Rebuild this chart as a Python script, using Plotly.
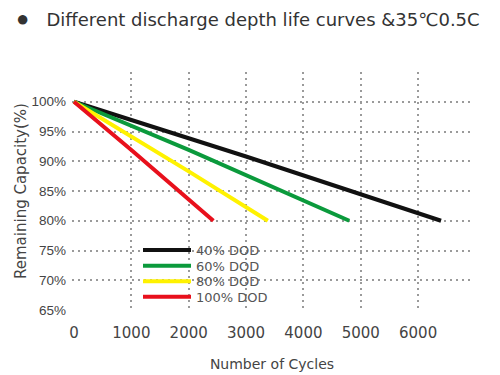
import plotly.graph_objects as go

# Data (cycles vs remaining capacity %)
cycles_40 = [0, 3000, 6400]
cap_40 = [100, 90.8, 80]

cycles_60 = [0, 2000, 4800]
cap_60 = [100, 91.9, 80]

cycles_80 = [0, 2000, 3380]
cap_80 = [100, 88.3, 80]

cycles_100 = [0, 1000, 2430]
cap_100 = [100, 91.9, 80]

names = ["40% DOD", "60% DOD", "80% DOD", "100% DOD"]
colors = ["#111111", "#0b9a3c", "#fff200", "#e8101c"]
xs_all = [cycles_40, cycles_60, cycles_80, cycles_100]
ys_all = [cap_40, cap_60, cap_80, cap_100]

x_ticks = [0, 1000, 2000, 3000, 4000, 5000, 6000]
x_grid = [1000, 2000, 3000, 4000, 5000, 6000]
y_ticks = [65, 70, 75, 80, 85, 90, 95, 100]
y_grid = [70, 75, 80, 85, 90, 95, 100]
y_ticktext = [f"{v}%" for v in y_ticks]

FONT = "Liberation Sans, Arial, sans-serif"
WIDE = "DejaVu Sans, Liberation Sans, sans-serif"
GRID = dict(showgrid=True, gridcolor="#9a9a9a", gridwidth=1.5, griddash="2px,4px")

# legend rows (paper y) for the four individual legends
legend_y = [0.252, 0.186, 0.121, 0.055]
legend_ids = ["legend", "legend2", "legend3", "legend4"]

fig = go.Figure()
for name, xs, ys, col, lid in zip(names, xs_all, ys_all, colors, legend_ids):
    fig.add_trace(go.Scatter(x=xs, y=ys, mode="lines", name=name, legend=lid,
                             line=dict(color=col, width=4), hoverinfo="skip"))

legend_layout = {}
for lid, ly in zip(legend_ids, legend_y):
    legend_layout[lid] = dict(x=0.165, y=ly, xanchor="left", yanchor="middle",
                              bgcolor="rgba(0,0,0,0)", borderwidth=0,
                              font=dict(family=WIDE, size=13, color="#555555"),
                              itemwidth=48)

fig.update_layout(
    width=500, height=375,
    margin=dict(l=72, r=28, t=72, b=65, autoexpand=False),
    paper_bgcolor="white", plot_bgcolor="white",
    font=dict(family=FONT, color="#444444"),
    title=dict(text="<span style='font-family:Liberation Sans;font-size:22px'>●</span>\u00a0\u00a0\u00a0Different discharge depth life curves &35℃0.5C",
               x=16/500, xanchor="left", xref="container",
               y=1-20/375, yanchor="middle", yref="container",
               font=dict(family=WIDE, size=18, color="#333333")),
    showlegend=True,
    xaxis=dict(range=[-35, 6940], tickvals=x_ticks, ticktext=[str(v) for v in x_ticks],
               showgrid=False, zeroline=False, showline=False, ticks="", automargin=False,
               tickfont=dict(family=WIDE, size=15, color="#444444"), ticklabelstandoff=12,
               minor=dict(tickvals=x_grid, ticks="", **GRID),
               title=dict(text="Number of Cycles",
                          font=dict(family=WIDE, size=14, color="#444444"),
                          standoff=18)),
    yaxis=dict(range=[65, 105], tickvals=y_ticks, ticktext=y_ticktext,
               showgrid=False, zeroline=False, showline=False, ticks="", automargin=False,
               tickfont=dict(size=13.5, color="#444444"), ticklabelstandoff=5,
               minor=dict(tickvals=y_grid, ticks="", **GRID),
               title=dict(text="Remaining Capacity(%)",
                          font=dict(family=WIDE, size=15, color="#444444"),
                          standoff=1)),
    **legend_layout,
)

fig.write_html("out.html", config={"displayModeBar": False},
               post_script="document.body.style.margin='0';")
